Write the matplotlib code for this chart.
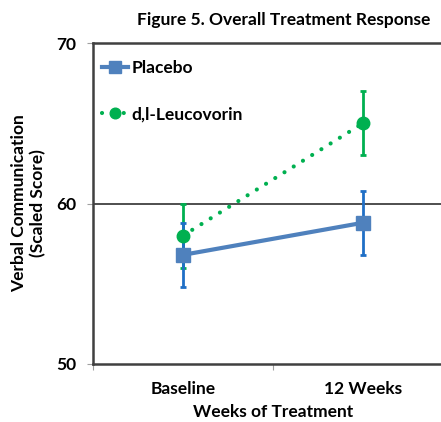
import matplotlib.pyplot as plt
import numpy as np

plt.rcParams['font.family'] = ['Lato', 'DejaVu Sans']
plt.rcParams['font.weight'] = 'bold'

categories = ["Baseline", "12 Weeks"]
placebo = [56.8, 58.8]
placebo_err = [2.0, 2.0]
leucovorin = [58.0, 65.0]
leucovorin_err = [2.0, 2.0]

blue = "#4F81BD"
blue_err = "#1F6FC6"
green = "#00B050"
axis_col = "#404040"


def main():
    fig = plt.figure(figsize=(4.41, 4.22), dpi=100)
    ax = fig.add_axes([93 / 441, 58 / 422, 360 / 441, 321 / 422])
    x = np.arange(len(categories)) + 0.5

    ax.axhline(60, color=axis_col, lw=1.3, zorder=1)

    ax.errorbar(x, leucovorin, yerr=leucovorin_err, fmt="none", ecolor=green,
                elinewidth=2, capsize=2.5, capthick=2, zorder=2)
    ax.errorbar(x, placebo, yerr=placebo_err, fmt="none", ecolor=blue_err,
                elinewidth=2, capsize=2.5, capthick=2, zorder=3)
    ax.plot(x, leucovorin, color=green, lw=3, ls=(0, (0.01, 2.6)),
            dash_capstyle="round", marker="o", ms=9, label="d,l-Leucovorin", zorder=4)
    ax.plot(x, placebo, color=blue, lw=3, marker="s", ms=9.5,
            label="Placebo", zorder=5)

    ax.set_xlim(0, 2)
    ax.set_ylim(50, 70)
    ax.set_yticks([50, 60, 70])
    ax.set_xticks([0, 1, 2])
    ax.set_xticklabels([])
    ax.set_xticks(x, minor=True)
    ax.set_xticklabels(categories, minor=True, fontsize=12.5, fontweight="bold")
    ax.tick_params(axis="x", which="minor", length=0, pad=12)
    ax.tick_params(axis="x", which="major", length=4, color="#a0a0a0", direction="out")
    ax.tick_params(axis="y", length=4, color="#a0a0a0", labelsize=12.5, pad=8)
    for lab in ax.get_yticklabels():
        lab.set_fontweight("bold")

    for s in ["left", "bottom", "top", "right"]:
        ax.spines[s].set_color(axis_col)
        ax.spines[s].set_linewidth(1.8)

    ax.set_xlabel("Weeks of Treatment", fontsize=12.5, fontweight="bold", labelpad=5)
    ax.set_ylabel("Verbal Communication\n(Scaled Score)", fontsize=12.5,
                  fontweight="bold", linespacing=1.2)
    ax.yaxis.set_label_coords(-47 / 360, 0.5)

    handles, labels = ax.get_legend_handles_labels()
    ax.legend(handles[::-1], labels[::-1], loc="upper left", frameon=False,
              fontsize=12.5, handlelength=1.5, handletextpad=0.2,
              labelspacing=1.75, borderaxespad=0.1, bbox_to_anchor=(0.0, 0.975),
              markerscale=0.85)

    fig.text(0.644, 0.953, "Figure 5. Overall Treatment Response", ha="center",
             va="center", fontsize=12.5, fontweight="bold")

    fig.savefig("out.png", dpi=100)


if __name__ == "__main__":
    main()
